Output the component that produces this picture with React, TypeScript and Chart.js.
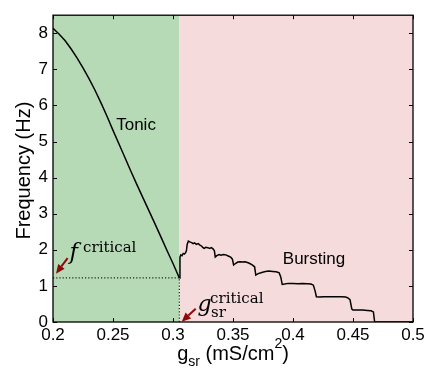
import React, { useEffect, useRef } from "react";
import { Chart, registerables } from "chart.js";

Chart.register(...registerables);

// ---- data ----
const tonicG = [0.2, 0.205, 0.21, 0.215, 0.22, 0.225, 0.23, 0.235, 0.24, 0.245, 0.25, 0.255, 0.26, 0.265, 0.27, 0.275, 0.28, 0.285, 0.29, 0.295, 0.3, 0.3053];
const tonicF = [8.14, 7.98, 7.8, 7.57, 7.32, 7.04, 6.74, 6.42, 6.07, 5.7, 5.31, 4.93, 4.55, 4.17, 3.8, 3.44, 3.08, 2.72, 2.35, 1.98, 1.62, 1.22];

const burstG = [0.3053, 0.3058, 0.3065, 0.3075, 0.3085, 0.3095, 0.3105, 0.3112, 0.3118, 0.3128, 0.314, 0.3155, 0.3168, 0.318, 0.3195, 0.321, 0.3225, 0.324, 0.325, 0.326, 0.3272, 0.329, 0.3305, 0.332, 0.3335, 0.3345, 0.3352, 0.3365, 0.3385, 0.34, 0.342, 0.344, 0.346, 0.348, 0.3495, 0.3505, 0.352, 0.354, 0.356, 0.358, 0.36, 0.362, 0.364, 0.366, 0.368, 0.369, 0.371, 0.374, 0.377, 0.38, 0.383, 0.386, 0.3885, 0.3898, 0.391, 0.393, 0.396, 0.4, 0.404, 0.408, 0.412, 0.415, 0.417, 0.4185, 0.4195, 0.422, 0.426, 0.43, 0.435, 0.44, 0.444, 0.446, 0.4475, 0.449, 0.45, 0.454, 0.458, 0.462, 0.465, 0.467, 0.468, 0.47, 0.5];
const burstF = [1.22, 1.8, 1.86, 1.84, 1.9, 1.88, 1.92, 1.98, 2.15, 2.24, 2.22, 2.2, 2.17, 2.19, 2.15, 2.17, 2.13, 2.1, 2.06, 2.04, 2.07, 2.06, 2.04, 2.06, 2.02, 1.97, 1.8, 1.84, 1.87, 1.85, 1.87, 1.86, 1.83, 1.8, 1.74, 1.58, 1.62, 1.66, 1.67, 1.66, 1.67, 1.65, 1.62, 1.58, 1.53, 1.3, 1.34, 1.37, 1.4, 1.41, 1.4, 1.39, 1.36, 1.25, 1.04, 1.05, 1.07, 1.07, 1.06, 1.07, 1.06, 1.05, 1.02, 0.85, 0.7, 0.69, 0.7, 0.7, 0.7, 0.7, 0.69, 0.66, 0.62, 0.36, 0.33, 0.33, 0.33, 0.32, 0.31, 0.28, 0.01, 0, 0];

const xRange = [0.2, 0.5];
const yRange = [0, 8.5];
const xTicks = [0.2, 0.25, 0.3, 0.35, 0.4, 0.45, 0.5];
const xTickLabels = ["0.2", "0.25", "0.3", "0.35", "0.4", "0.45", "0.5"];
const yTicks = [0, 1, 2, 3, 4, 5, 6, 7, 8];
const yTickLabels = ["0", "1", "2", "3", "4", "5", "6", "7", "8"];

const gCritical = 0.3053;
const fCritical = 1.22;

const regionLabels = [
  { text: "Tonic", x: 0.2692, y: 5.32 },
  { text: "Bursting", x: 0.4175, y: 1.61 },
];
// arrows: tail -> tip (data coords)
const arrows = [
  { x0: 0.2122, y0: 1.77, x1: 0.2025, y1: 1.34 },
  { x0: 0.3189, y0: 0.37, x1: 0.3073, y1: 0.01 },
];
const fLabelAt = { x: 0.2138, y: 1.74 };
const gLabelAt = { x: 0.3205, y: 0.294 };

const SANS = '"Liberation Sans", Arial, sans-serif';
const SERIF = '"DejaVu Serif", serif';

const decorPlugin = {
  id: "decor",
  beforeDatasetsDraw(chart: any) {
    const { ctx, chartArea: a, scales } = chart;
    const xs = scales.x;
    const xc = xs.getPixelForValue(gCritical);
    ctx.save();
    ctx.fillStyle = "#b6dab6";
    ctx.fillRect(a.left, a.top, xc - a.left, a.bottom - a.top);
    ctx.fillStyle = "#f5dbdc";
    ctx.fillRect(xc, a.top, a.right - xc, a.bottom - a.top);
    ctx.restore();
  },
  afterDatasetsDraw(chart: any) {
    const { ctx, chartArea: a, scales } = chart;
    const xs = scales.x;
    const ys = scales.y;
    ctx.save();
    // ticks inward, all sides
    ctx.strokeStyle = "#000";
    ctx.lineWidth = 1;
    const tl = 4;
    ctx.beginPath();
    xTicks.forEach((v) => {
      const px = Math.round(xs.getPixelForValue(v)) + 0.5;
      ctx.moveTo(px, a.bottom);
      ctx.lineTo(px, a.bottom - tl);
      ctx.moveTo(px, a.top);
      ctx.lineTo(px, a.top + tl);
    });
    yTicks.forEach((v) => {
      const py = Math.round(ys.getPixelForValue(v)) + 0.5;
      ctx.moveTo(a.left, py);
      ctx.lineTo(a.left + tl, py);
      ctx.moveTo(a.right, py);
      ctx.lineTo(a.right - tl, py);
    });
    ctx.stroke();
    // border
    ctx.lineWidth = 1.3;
    ctx.strokeRect(a.left, a.top, a.right - a.left, a.bottom - a.top);

    // region labels
    ctx.fillStyle = "#000";
    ctx.font = `17px ${SANS}`;
    ctx.textAlign = "center";
    ctx.textBaseline = "alphabetic";
    regionLabels.forEach((l) => {
      ctx.fillText(l.text, xs.getPixelForValue(l.x), ys.getPixelForValue(l.y));
    });

    // arrows
    ctx.strokeStyle = "#8b0a0a";
    ctx.fillStyle = "#8b0a0a";
    arrows.forEach((ar) => {
      const x0 = xs.getPixelForValue(ar.x0), y0 = ys.getPixelForValue(ar.y0);
      const x1 = xs.getPixelForValue(ar.x1), y1 = ys.getPixelForValue(ar.y1);
      const ang = Math.atan2(y1 - y0, x1 - x0);
      const hl = 9, hw = 4;
      const bx = x1 - hl * Math.cos(ang), by = y1 - hl * Math.sin(ang);
      ctx.lineWidth = 2;
      ctx.beginPath();
      ctx.moveTo(x0, y0);
      ctx.lineTo(bx, by);
      ctx.stroke();
      ctx.beginPath();
      ctx.moveTo(x1, y1);
      ctx.lineTo(bx + hw * Math.sin(ang), by - hw * Math.cos(ang));
      ctx.lineTo(bx - hw * Math.sin(ang), by + hw * Math.cos(ang));
      ctx.closePath();
      ctx.fill();
    });

    // f^critical
    ctx.fillStyle = "#000";
    ctx.textAlign = "left";
    const fx = xs.getPixelForValue(fLabelAt.x), fy = ys.getPixelForValue(fLabelAt.y);
    ctx.font = `italic 23px ${SERIF}`;
    ctx.fillText("f", fx, fy);
    ctx.font = `15px ${SERIF}`;
    ctx.fillText("critical", fx + 13.5, fy - 7);

    // g_sr^critical
    const gx = xs.getPixelForValue(gLabelAt.x), gy = ys.getPixelForValue(gLabelAt.y);
    ctx.font = `italic 22px ${SERIF}`;
    ctx.fillText("g", gx, gy);
    ctx.font = `15px ${SERIF}`;
    ctx.fillText("critical", gx + 12.5, gy - 8);
    ctx.fillText("sr", gx + 13.5, gy + 5.5);

    // y axis title
    ctx.save();
    ctx.font = `20px ${SANS}`;
    ctx.textAlign = "center";
    ctx.translate(29.5, (a.top + a.bottom) / 2 + 2);
    ctx.rotate(-Math.PI / 2);
    ctx.fillText("Frequency (Hz)", 0, 0);
    ctx.restore();

    // x axis title: g_sr (mS/cm^2)
    const parts = [
      { t: "g", size: 20, dy: 0 },
      { t: "sr", size: 14, dy: 6.5 },
      { t: " (mS/cm", size: 20, dy: 0 },
      { t: "2", size: 14, dy: -12 },
      { t: ")", size: 20, dy: 0 },
    ];
    let total = 0;
    const widths = parts.map((p) => {
      ctx.font = `${p.size}px ${SANS}`;
      const w = ctx.measureText(p.t).width;
      total += w;
      return w;
    });
    let cx = (a.left + a.right) / 2 - total / 2;
    const base = 359.5;
    ctx.textAlign = "left";
    parts.forEach((p, i) => {
      ctx.font = `${p.size}px ${SANS}`;
      ctx.fillText(p.t, cx, base + p.dy);
      cx += widths[i];
    });
    ctx.restore();
  },
};

export default function App() {
  const ref = useRef<HTMLCanvasElement | null>(null);
  useEffect(() => {
    if (!ref.current) return;
    const tonic = tonicG.map((g, i) => ({ x: g, y: tonicF[i] }));
    const burst = burstG.map((g, i) => ({ x: g, y: burstF[i] }));
    const chart = new Chart(ref.current, {
      type: "scatter",
      data: {
        datasets: [
          {
            data: [
              { x: xRange[0], y: fCritical },
              { x: gCritical, y: fCritical },
            ],
            showLine: true,
            borderColor: "#222",
            borderWidth: 1.2,
            borderDash: [1.2, 2],
            pointRadius: 0,
          },
          {
            data: [
              { x: gCritical, y: 0 },
              { x: gCritical, y: fCritical },
            ],
            showLine: true,
            borderColor: "#222",
            borderWidth: 1.2,
            borderDash: [1.2, 2],
            pointRadius: 0,
          },
          {
            data: tonic,
            showLine: true,
            borderColor: "#000",
            borderWidth: 1.5,
            pointRadius: 0,
          },
          {
            data: burst,
            showLine: true,
            borderColor: "#000",
            borderWidth: 1.5,
            pointRadius: 0,
          },
        ],
      },
      options: {
        animation: false,
        responsive: false,
        events: [],
        layout: { padding: { top: 4, right: 16, left: 0, bottom: 0 } },
        plugins: { legend: { display: false }, tooltip: { enabled: false } },
        scales: {
          x: {
            type: "linear",
            min: xRange[0],
            max: xRange[1],
            afterBuildTicks: (s: any) => {
              s.ticks = xTicks.map((v) => ({ value: v }));
            },
            afterFit: (s: any) => {
              s.height = 50;
            },
            grid: { display: false, drawTicks: false },
            border: { display: false },
            ticks: {
              autoSkip: false,
              maxRotation: 0,
              padding: 3,
              color: "#000",
              font: { family: SANS, size: 17 },
              callback: (v: any) => {
                const i = xTicks.findIndex((t) => Math.abs(t - v) < 1e-9);
                return i >= 0 ? xTickLabels[i] : "";
              },
            },
          },
          y: {
            type: "linear",
            min: yRange[0],
            max: yRange[1],
            afterBuildTicks: (s: any) => {
              s.ticks = yTicks.map((v) => ({ value: v }));
            },
            afterFit: (s: any) => {
              s.width = 53;
            },
            grid: { display: false, drawTicks: false },
            border: { display: false },
            ticks: {
              autoSkip: false,
              padding: 5,
              color: "#000",
              font: { family: SANS, size: 17 },
              callback: (v: any) => {
                const i = yTicks.findIndex((t) => Math.abs(t - v) < 1e-9);
                return i >= 0 ? yTickLabels[i] : "";
              },
            },
          },
        },
      },
      plugins: [decorPlugin],
    });
    return () => chart.destroy();
  }, []);
  return (
    <div style={{ position: "fixed", left: 0, top: 0, width: 429, height: 372, background: "#fff" }}>
      <canvas ref={ref} width={429} height={372} style={{ width: 429, height: 372, display: "block" }} />
    </div>
  );
}
